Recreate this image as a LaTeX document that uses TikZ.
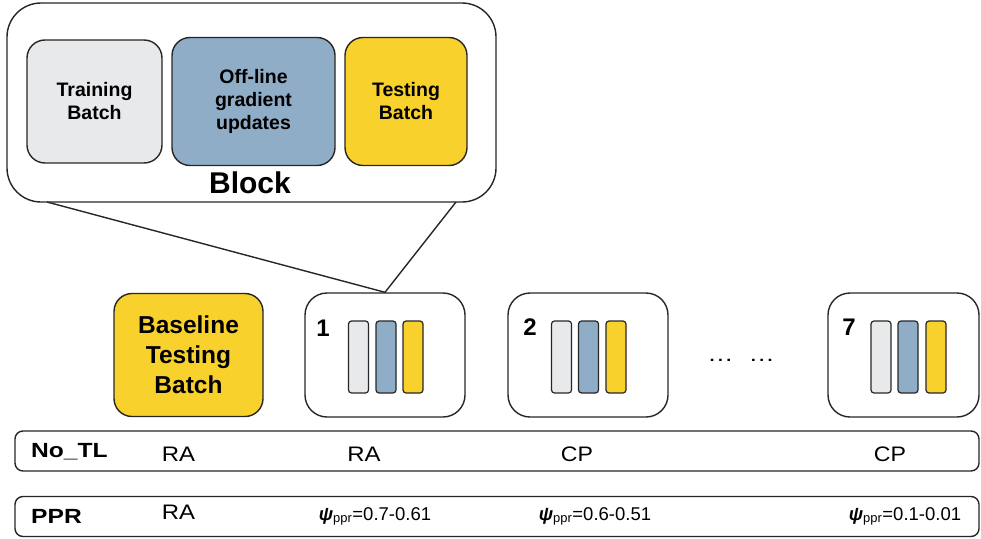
\documentclass[tikz,border=0pt]{standalone}
\usepackage{fontspec}
\usepackage{graphicx}
\setmainfont{Liberation Sans}
\definecolor{cgray}{HTML}{E8E9EB}
\definecolor{cblue}{HTML}{8FADC6}
\definecolor{cyellow}{HTML}{F9D12C}
\newcommand\hstretch[2]{\scalebox{#1}[1]{#2}}
\begin{document}
\begin{tikzpicture}[x=1pt,y=-1pt,
  outline/.style={draw=black!85, line width=1.4pt, inner sep=0pt},
  bigbox/.style={outline, rounded corners=22pt},
  batch/.style={outline, rounded corners=18pt, align=center, font=\fontsize{19.5}{23}\selectfont\bfseries},
  bar/.style={outline, line width=1.2pt, rounded corners=3pt, minimum width=20pt, minimum height=72pt},
  rowbox/.style={outline, rounded corners=8pt, minimum width=964pt, minimum height=40pt},
  num/.style={font=\fontsize{24}{24}\selectfont\bfseries, inner sep=0pt},
  cell/.style={font=\fontsize{21}{21}\selectfont, inner sep=0pt},
  head/.style={font=\fontsize{20.5}{20.5}\selectfont\bfseries, inner sep=0pt, anchor=west},
  psi/.style={font=\fontsize{18.5}{18.5}\selectfont, inner sep=0pt}]
\useasboundingbox (0,0) rectangle (981,538);

% Block detail
\node[bigbox, rounded corners=34pt, minimum width=489pt, minimum height=199pt] (block) at (251.5,102.5) {};
\node[batch, fill=cgray, minimum width=135pt, minimum height=123pt] (train) at (94.5,101.5) {Training\\Batch};
\node[batch, fill=cblue, minimum width=163pt, minimum height=128pt] (offline) at (253.5,101.5) {Off-line\\gradient\\updates};
\node[batch, fill=cyellow, minimum width=122pt, minimum height=128pt] (testing) at (406,101.5) {Testing\\Batch};
\node[font=\fontsize{30}{30}\selectfont\bfseries, inner sep=0pt] (blocklabel) at (250,183) {Block};

% baseline
\node[batch, fill=cyellow, minimum width=149pt, minimum height=123pt, font=\fontsize{24.5}{30}\selectfont\bfseries] (base) at (188.5,355) {Baseline\\Testing\\Batch};

% blocks 1, 2, 7
\node[bigbox, minimum width=160pt, minimum height=124pt] (b1) at (385,355) {};
\node[bigbox, minimum width=160pt, minimum height=124pt] (b2) at (588,355) {};
\node[bigbox, minimum width=151pt, minimum height=124pt] (b7) at (903.5,355) {};

\node[num] (n1) at (323,328) {1};
\node[num] (n2) at (530,327) {2};
\node[num] (n7) at (849,327) {7};

\node[bar, fill=cgray] (b1a) at (358.5,357) {};
\node[bar, fill=cblue] (b1b) at (386,357) {};
\node[bar, fill=cyellow] (b1c) at (413,357) {};
\node[bar, fill=cgray] (b2a) at (561.5,357) {};
\node[bar, fill=cblue] (b2b) at (588.5,357) {};
\node[bar, fill=cyellow] (b2c) at (616,357) {};
\node[bar, fill=cgray] (b7a) at (881,357) {};
\node[bar, fill=cblue] (b7b) at (908,357) {};
\node[bar, fill=cyellow] (b7c) at (936,357) {};

\node[font=\fontsize{21}{21}\selectfont, inner sep=0pt] (dots) at (741,360) {\hstretch{1.25}{…}\hspace{15pt}\hstretch{1.25}{…}};

% zoom lines
\coordinate (zl) at (47,202);
\coordinate (zr) at (456,202);
\draw[line width=1.4pt, black!85] (zl) -- (b1.north) -- (zr);

% rows
\node[rowbox] (row1) at (497,451) {};
\node[rowbox] (row2) at (497,516.5) {};

\node[head] (notl) at (31,452) {\hstretch{1.2}{No\_TL}};
\node[cell] (r1a) at (178.5,454.5) {\hstretch{1.14}{RA}};
\node[cell] (r1b) at (364,454.5) {\hstretch{1.14}{RA}};
\node[cell] (r1c) at (577,454.5) {\hstretch{1.1}{CP}};
\node[cell] (r1d) at (890,454.5) {\hstretch{1.1}{CP}};

\node[head] (ppr) at (31,516) {\hstretch{1.2}{PPR}};
\node[cell] (r2a) at (178.5,512.5) {\hstretch{1.14}{RA}};
\node[psi] (r2b) at (375,516.5) {{\bfseries\itshape ψ}\textsubscript{ppr}=0.7-0.61};
\node[psi] (r2c) at (595,516.5) {{\bfseries\itshape ψ}\textsubscript{ppr}=0.6-0.51};
\node[psi] (r2d) at (905,516.5) {{\bfseries\itshape ψ}\textsubscript{ppr}=0.1-0.01};
\end{tikzpicture}
\end{document}
